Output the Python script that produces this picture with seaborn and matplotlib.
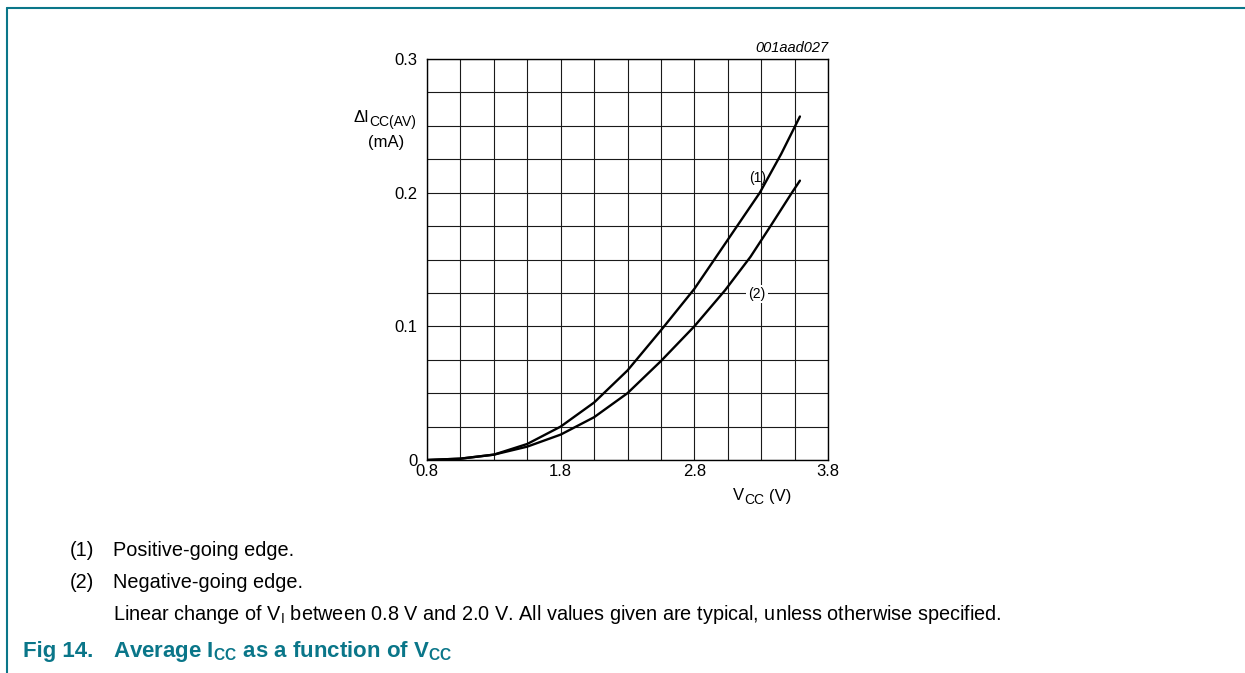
import matplotlib
matplotlib.use("Agg")
import matplotlib.pyplot as plt
import seaborn as sns
import pandas as pd
from matplotlib.lines import Line2D
from matplotlib.ticker import MultipleLocator, FixedLocator

# values
vcc_pos = [0.8, 1.05, 1.3, 1.55, 1.8, 2.05, 2.3, 2.55, 2.8, 2.95, 3.12, 3.29, 3.45, 3.59]
icc_pos = [0.0, 0.001, 0.004, 0.012, 0.025, 0.043, 0.067, 0.097, 0.128, 0.150, 0.175, 0.200, 0.229, 0.257]
vcc_neg = [0.8, 1.05, 1.3, 1.55, 1.8, 2.05, 2.3, 2.55, 2.8, 3.03, 3.22, 3.37, 3.53, 3.59]
icc_neg = [0.0, 0.001, 0.004, 0.010, 0.019, 0.032, 0.050, 0.074, 0.100, 0.127, 0.152, 0.175, 0.200, 0.209]
x_ticks = [0.8, 1.8, 2.8, 3.8]
y_ticks = [0, 0.1, 0.2, 0.3]
y_tick_labels = ['0', '0.1', '0.2', '0.3']
curve_labels = ['(1)', '(2)']

W, H = 1245, 673
TEAL = '#0a7689'


def fx(px):
    return px / W


def fy(py):
    return 1 - py / H


sns.set_theme(style="white")
plt.rcParams['font.family'] = ['Liberation Sans', 'DejaVu Sans']
plt.rcParams['text.color'] = 'black'
plt.rcParams['mathtext.fontset'] = 'custom'
plt.rcParams['mathtext.rm'] = 'Liberation Sans'
plt.rcParams['mathtext.it'] = 'Liberation Sans:italic'
plt.rcParams['mathtext.bf'] = 'Liberation Sans:bold'

df = pd.DataFrame({
    'VCC': vcc_pos + vcc_neg,
    'ICC': icc_pos + icc_neg,
    'curve': [curve_labels[0]] * len(vcc_pos) + [curve_labels[1]] * len(vcc_neg),
})

fig = plt.figure(figsize=(W / 100, H / 100), dpi=100)
ax = fig.add_axes([fx(427), fy(460), fx(828) - fx(427), fy(59) - fy(460)])

sns.lineplot(data=df, x='VCC', y='ICC', hue='curve', palette=['black', 'black'],
             linewidth=1.7, legend=False, ax=ax, zorder=3)

ax.set_xlim(0.8, 3.8)
ax.set_ylim(0, 0.3)
ax.xaxis.set_major_locator(FixedLocator(x_ticks))
ax.yaxis.set_major_locator(FixedLocator(y_ticks))
ax.set_yticklabels(y_tick_labels)
ax.xaxis.set_minor_locator(MultipleLocator(0.25, offset=0.05))
ax.yaxis.set_minor_locator(MultipleLocator(0.025))
ax.grid(which='both', color='#1a1a1a', linewidth=0.8)
ax.tick_params(which='both', length=0, labelsize=12, colors='black')
ax.tick_params(axis='x', pad=3)
ax.tick_params(axis='y', pad=7)
for s in ax.spines.values():
    s.set_color('black')
    s.set_linewidth(1.0)
ax.set_xlabel('')
ax.set_ylabel('')

# curve labels
ax.text(3.27, 0.211, curve_labels[0], fontsize=10, ha='center', va='center')
ax.text(3.27, 0.124, curve_labels[1], fontsize=10, ha='center', va='center',
        bbox=dict(facecolor='white', edgecolor='none', pad=1.5), zorder=4)

# axis titles (main text with lowered subscript)
fig.text(fx(354), fy(118), '\u0394I', fontsize=12, ha='left', va='center')
fig.text(fx(369), fy(122), 'CC(AV)', fontsize=10, ha='left', va='center')
fig.text(fx(386), fy(143), '(mA)', fontsize=12, ha='center', va='center')
fig.text(fx(733), fy(496), 'V', fontsize=12, ha='left', va='center')
fig.text(fx(744), fy(500), 'CC', fontsize=10, ha='left', va='center')
fig.text(fx(769), fy(496), '(V)', fontsize=12, ha='left', va='center')
fig.text(fx(828), fy(48), '001aad027', fontsize=10.5, style='italic',
         ha='right', va='center')

# notes under the chart
fig.text(fx(70), fy(550), '(1)', fontsize=14.3, ha='left', va='center')
fig.text(fx(113), fy(550), 'Positive-going edge.', fontsize=14.3, ha='left', va='center')
fig.text(fx(70), fy(582), '(2)', fontsize=14.3, ha='left', va='center')
fig.text(fx(113), fy(582), 'Negative-going edge.', fontsize=14.3, ha='left', va='center')
fig.text(fx(113), fy(615),
         r'Linear change of V$_{\mathregular{I}}$ between 0.8 V and 2.0 V. '
         'All values given are typical, unless otherwise specified.',
         fontsize=14.3, ha='left', va='center')
fig.text(fx(23), fy(651), 'Fig 14.', fontsize=16, fontweight='bold',
         color=TEAL, ha='left', va='center')
fig.text(fx(113), fy(651),
         r'Average I$_{\mathbf{CC}}$ as a function of V$_{\mathbf{CC}}$',
         fontsize=16, fontweight='bold', color=TEAL, ha='left', va='center')

# page frame
fig.add_artist(Line2D([fx(7), 1], [fy(8), fy(8)], color=TEAL, linewidth=1.5))
fig.add_artist(Line2D([fx(7), fx(7)], [fy(8), 0], color=TEAL, linewidth=1.5))

fig.savefig('out.png', dpi=100)
